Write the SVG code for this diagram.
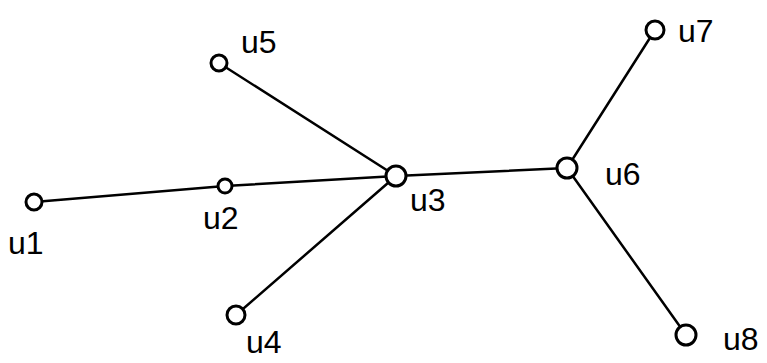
<svg xmlns="http://www.w3.org/2000/svg" width="767" height="363" viewBox="0 0 767 363">
<style>
.n{fill:#fff;stroke:#000;stroke-width:3}
.e{stroke:#000;stroke-width:2.5;fill:none;stroke-linecap:round}
.t{font-family:"Liberation Sans",Arial,sans-serif;font-size:32px;fill:#000}
</style>
<rect width="767" height="363" fill="#fff"/>
<g id="edges">
<line class="e" x1="34" y1="202" x2="225" y2="186"/>
<line class="e" x1="225" y1="186" x2="396" y2="176"/>
<line class="e" x1="219" y1="63" x2="396" y2="176"/>
<line class="e" x1="236" y1="315" x2="396" y2="176"/>
<line class="e" x1="396" y1="176" x2="567" y2="168"/>
<line class="e" x1="567" y1="168" x2="655" y2="30"/>
<line class="e" x1="567" y1="168" x2="686" y2="335"/>
</g>
<g id="u1"><circle class="n" cx="34" cy="202" r="8"/><text class="t" x="8" y="254">u1</text></g>
<g id="u2"><circle class="n" cx="225" cy="186" r="7"/><text class="t" x="203" y="229">u2</text></g>
<g id="u3"><circle class="n" cx="396" cy="176" r="10"/><text class="t" x="410" y="211">u3</text></g>
<g id="u4"><circle class="n" cx="236" cy="315" r="9"/><text class="t" x="246" y="353">u4</text></g>
<g id="u5"><circle class="n" cx="219" cy="63" r="8"/><text class="t" x="241" y="53">u5</text></g>
<g id="u6"><circle class="n" cx="567" cy="168" r="10"/><text class="t" x="605" y="185">u6</text></g>
<g id="u7"><circle class="n" cx="655" cy="30" r="9"/><text class="t" x="678" y="42">u7</text></g>
<g id="u8"><circle class="n" cx="686" cy="335" r="10"/><text class="t" x="723" y="350">u8</text></g>
</svg>
